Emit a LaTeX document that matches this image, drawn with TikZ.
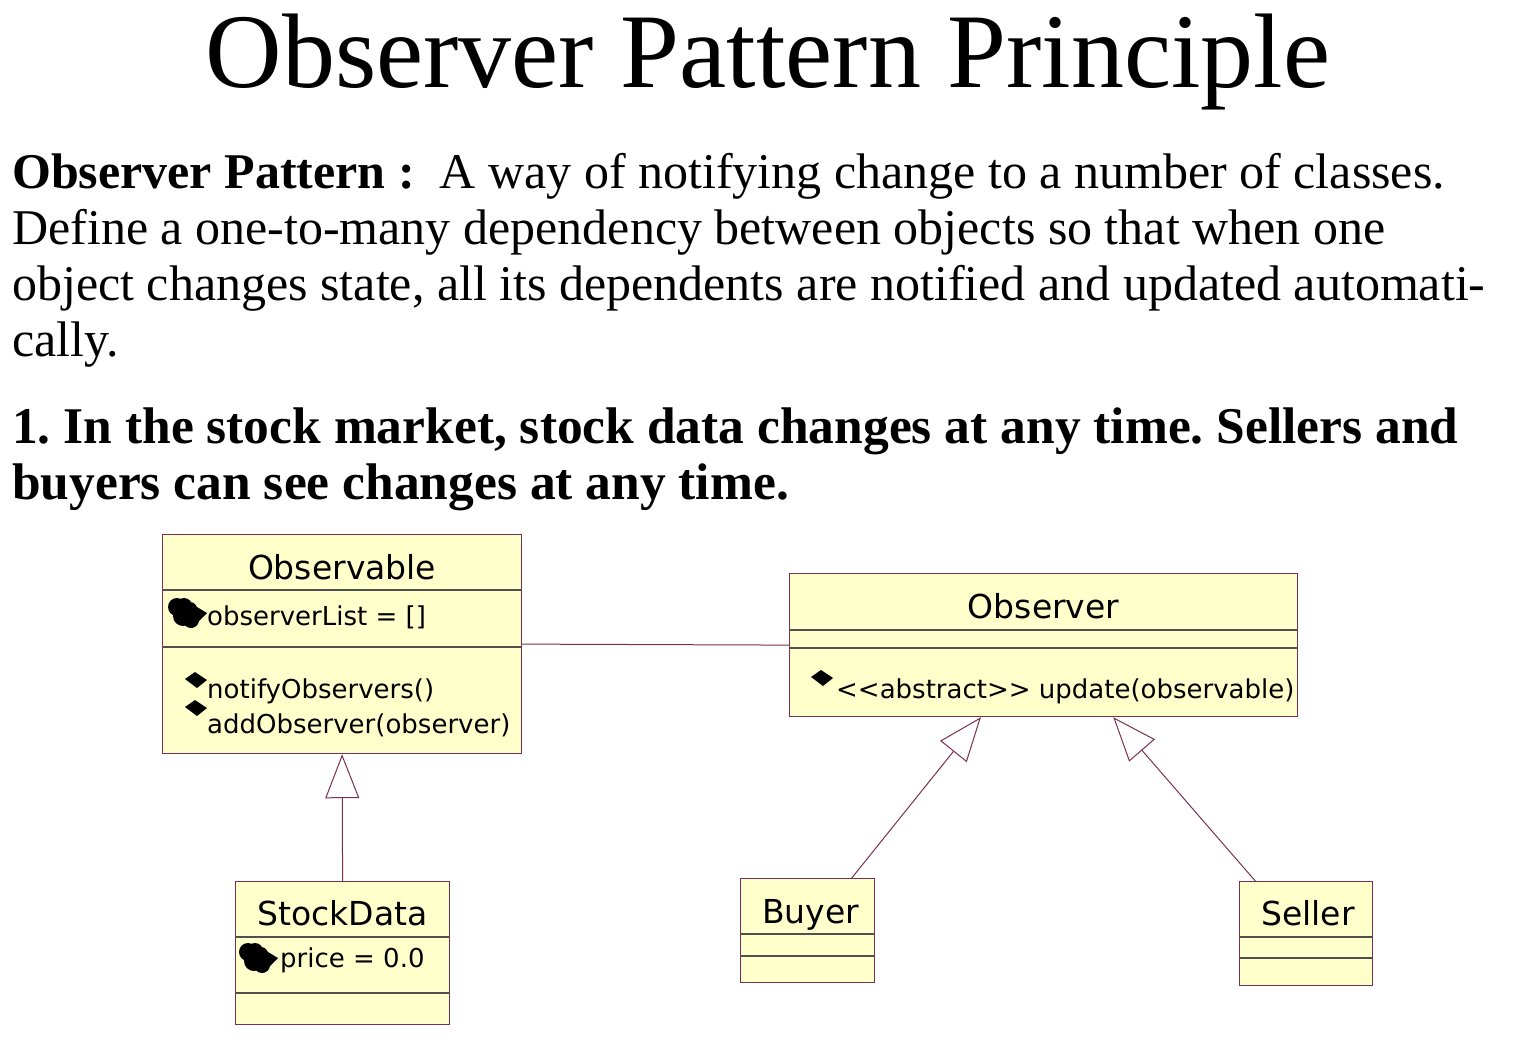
\documentclass[tikz,border=0pt]{standalone}
\usepackage{fontspec}
\setmainfont{Liberation Serif}
\newfontfamily\umlfont{DejaVu Sans}
\usepackage{tikz}
\usetikzlibrary{arrows.meta,positioning,calc}
\definecolor{umlfill}{HTML}{FFFFCC}
\definecolor{umlline}{HTML}{7A3050}
\definecolor{umlsep}{HTML}{505050}

\tikzset{
  classbox/.style={draw=umlline, fill=umlfill, line width=1.2pt, inner sep=0pt,
                   anchor=north west},
  sepline/.style={draw=umlsep, line width=1.2pt},
  classname/.style={font=\umlfont\fontsize{33}{36}\selectfont, inner sep=0pt,
                    anchor=base},
  member/.style={font=\umlfont\fontsize{26}{30}\selectfont, inner sep=0pt,
                 anchor=base west},
  bodyline/.style={font=\fontsize{50}{56}\selectfont, inner sep=0pt,
                   anchor=base west},
  caseline/.style={bodyline, font=\fontsize{51.5}{56}\selectfont\bfseries},
  realize/.style={draw=umlline, line width=1pt,
                  -{Triangle[open, length=44pt, width=34pt, line width=1pt]}},
  assoc/.style={draw=umlline, line width=1pt},
  pics/attricon/.style={code={
    \fill (-11,-5) circle (9pt) (-4,-6) circle (8pt) (-5,4) circle (10pt)
          (3,8) circle (8pt) (2,-3) circle (7pt);
    \fill (4,-8) -- (19,1) -- (4,16) -- (-6,8) -- cycle;
  }},
  pics/methicon/.style={code={
    \fill (-11,-1) -- (-1,-8) -- (11,0) -- (1,8) -- cycle;
  }},
}

\begin{document}
\frenchspacing
\begin{tikzpicture}[x=1pt, y=-1pt]
\fill[white] (0,0) rectangle (1520,1046);
\useasboundingbox (0,0) rectangle (1520,1046);

% heading and text
\node[bodyline, anchor=base, font=\fontsize{106}{110}\selectfont] (title)
  at (768,88) {Observer Pattern Principle};
\node[bodyline] (def1) at (12,188)
  {\textbf{Observer Pattern :}\ \ A way of notifying change to a number of classes.};
\node[bodyline] (def2) at (12,244)
  {Define a one-to-many dependency between objects so that when one};
\node[bodyline] (def3) at (12,300)
  {object changes state, all its dependents are notified and updated automati-};
\node[bodyline] (def4) at (12,356) {cally.};
\node[caseline] (case1) at (12,443)
  {1. In the stock market, stock data changes at any time. Sellers and};
\node[caseline] (case2) at (12,499)
  {buyers can see changes at any time.};

% class boxes
\node[classbox, minimum width=359pt, minimum height=219pt] (obs) at (162,534) {};
\node[classbox, minimum width=508pt, minimum height=143pt] (obsr) at (789,573) {};
\node[classbox, minimum width=214pt, minimum height=143pt] (stock) at (235,881) {};
\node[classbox, minimum width=134pt, minimum height=104pt] (buyer) at (740,878) {};
\node[classbox, minimum width=133pt, minimum height=104pt] (seller) at (1239,881) {};

\foreach \cls/\dy in {obs/56, obs/113, obsr/57, obsr/75, stock/56, stock/112,
                      buyer/56, buyer/78, seller/56, seller/77}
  \draw[sepline] ($(\cls.north west)+(0,\dy)$) -- ($(\cls.north east)+(0,\dy)$);

% class names
\node[classname] (obs-name) at ($(obs.north)+(0,45)$) {Observable};
\node[classname] (obsr-name) at ($(obsr.north)+(0,45)$) {Observer};
\node[classname] (stock-name) at ($(stock.north)+(0,44)$) {StockData};
\node[classname] (buyer-name) at ($(buyer.north)+(3,45)$) {Buyer};
\node[classname] (seller-name) at ($(seller.north)+(2,44)$) {Seller};

% members
\pic at (188,612) {attricon};
\node[member] (obs-attr) at (207,625) {observerList = []};
\pic at (196,680) {methicon};
\node[member] (obs-op1) at (207,698) {notifyObservers()};
\pic at (196,708) {methicon};
\node[member] (obs-op2) at (207,733) {addObserver(observer)};
\pic at (822,678) {methicon};
\node[member] (obsr-op) at (836,698) {<{}<abstract>{}> update(observable)};
\pic at (259,957) {attricon};
\node[member] (stock-attr) at (280,967) {price = 0.0};

% connectors
\draw[assoc] (obs.east) -- (obsr.west);
\draw[realize] (stock.north) -- (obs.south);
\draw[realize] (buyer.50) -- (obsr.229);
\draw[realize] (seller.134) -- (obsr.314);
\end{tikzpicture}
\end{document}
